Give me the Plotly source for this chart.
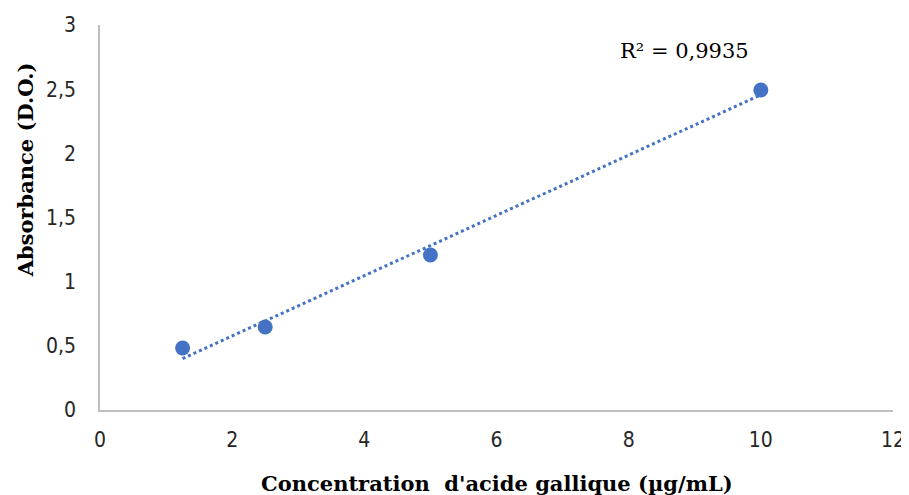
import numpy as np
import plotly.graph_objects as go

conc = [1.25, 2.5, 5, 10]
absorb = [0.483, 0.647, 1.208, 2.494]
x_ticks = [0, 2, 4, 6, 8, 10, 12]
y_ticks = [0, 0.5, 1, 1.5, 2, 2.5, 3]
y_tick_text = ["0", "0,5", "1", "1,5", "2", "2,5", "3"]
r2_text = "R² = 0,9935"

slope, intercept = np.polyfit(conc, absorb, 1)
fit_x = [min(conc), max(conc)]
fit_y = [slope * v + intercept for v in fit_x]

blue = "#4472C4"
tick_font = dict(family="DejaVu Sans Condensed, Liberation Sans Narrow, Arial Narrow, Liberation Sans",
                 size=21, color="#262626")
serif = "DejaVu Serif, Liberation Serif"

fig = go.Figure()
fig.add_trace(go.Scatter(x=fit_x, y=fit_y, mode="lines",
                         line=dict(color=blue, width=3, dash="dot"), showlegend=False))
fig.add_trace(go.Scatter(x=conc, y=absorb, mode="markers",
                         marker=dict(color=blue, size=15), showlegend=False))

# page body has an 8px default margin; compensate so the plot area lands at 100..893 x 25..410
fig.update_layout(
    width=901, height=487,
    margin=dict(l=92, r=16, t=17, b=85),
    plot_bgcolor="white", paper_bgcolor="white",
    xaxis=dict(range=[0, 12], tickvals=x_ticks, ticktext=[str(v) for v in x_ticks],
               showgrid=False, zeroline=False, showline=True, linecolor="#BFBFBF", linewidth=1.5,
               ticks="", tickfont=tick_font, ticklabelstandoff=10, automargin=False),
    yaxis=dict(range=[0, 3], tickvals=y_ticks, ticktext=y_tick_text,
               showgrid=False, zeroline=False, showline=True, linecolor="#BFBFBF", linewidth=1.5,
               ticks="", tickfont=tick_font, ticklabelstandoff=18, automargin=False),
    annotations=[
        dict(text="<b>Absorbance (D.O.)</b>", textangle=-90, xref="paper", yref="paper",
             x=-0.0946, y=0.625, xanchor="center", yanchor="middle", showarrow=False,
             font=dict(family=serif, size=21, color="#000")),
        dict(text="<b>Concentration  d'acide gallique (µg/mL)</b>", xref="paper", yref="paper",
             x=0.5, y=-0.19, xanchor="center", yanchor="middle", showarrow=False,
             font=dict(family=serif, size=21, color="#000")),
        dict(text=r2_text, xref="x", yref="y", x=8.85, y=2.8, xanchor="center", yanchor="middle",
             showarrow=False, font=dict(family=serif, size=21, color="#000")),
    ],
)
fig.write_html("out.html")
